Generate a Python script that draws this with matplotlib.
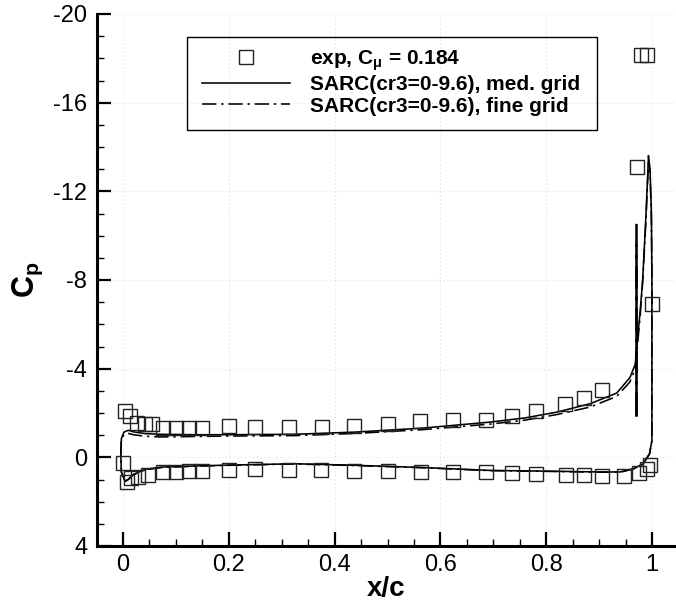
import matplotlib
matplotlib.use("Agg")
import matplotlib.pyplot as plt
from matplotlib.ticker import MultipleLocator
from matplotlib.patches import Rectangle

plt.rcParams['font.family'] = ['Liberation Sans', 'DejaVu Sans']
plt.rcParams['mathtext.fontset'] = 'custom'
plt.rcParams['mathtext.rm'] = 'Liberation Sans'
plt.rcParams['mathtext.bf'] = 'Liberation Sans:bold'
plt.rcParams['mathtext.it'] = 'Liberation Sans:italic'
plt.rcParams['mathtext.default'] = 'regular'

# ---------------- data ----------------
exp_up_x = [0.004, 0.013, 0.027, 0.041, 0.054, 0.076, 0.10, 0.125, 0.15, 0.20, 0.25, 0.313,
            0.376, 0.437, 0.50, 0.561, 0.624, 0.686, 0.736, 0.780, 0.836, 0.872, 0.905,
            0.972, 0.978, 0.99, 1.0]
exp_up_cp = [-2.07, -1.86, -1.54, -1.50, -1.49, -1.32, -1.32, -1.32, -1.32, -1.41, -1.35, -1.35,
             -1.37, -1.41, -1.52, -1.64, -1.67, -1.67, -1.86, -2.09, -2.42, -2.69, -3.05,
             -13.1, -18.15, -18.15, -6.9]

exp_lo_x = [0.0, 0.007, 0.016, 0.029, 0.047, 0.076, 0.10, 0.125, 0.15, 0.20, 0.25, 0.313,
            0.374, 0.437, 0.50, 0.563, 0.624, 0.686, 0.736, 0.78, 0.838, 0.872, 0.905,
            0.947, 0.976, 0.99, 0.996]
exp_lo_cp = [0.27, 1.11, 0.95, 0.87, 0.78, 0.66, 0.66, 0.62, 0.62, 0.59, 0.54, 0.57,
             0.59, 0.62, 0.63, 0.65, 0.68, 0.68, 0.72, 0.77, 0.80, 0.80, 0.82,
             0.86, 0.71, 0.51, 0.36]

med_up_x = [0.004, -0.003, -0.004, -0.003, 0.002, 0.01, 0.02, 0.042, 0.07, 0.136, 0.2, 0.325,
            0.44, 0.567, 0.694, 0.76, 0.82, 0.883, 0.933, 0.958, 0.968, 0.972, 0.977,
            0.982, 0.988, 0.993]
med_up_cp = [1.08, 0.66, -0.09, -0.84, -1.14, -1.22, -1.15, -1.07, -1.04, -1.02, -1.02, -1.04,
             -1.14, -1.32, -1.59, -1.78, -2.04, -2.42, -2.9, -3.6, -4.2, -5.3, -6.5,
             -8.0, -10.8, -13.6]
med_lo_x = [0.004, 0.01, 0.019, 0.042, 0.073, 0.136, 0.2, 0.325, 0.44, 0.567, 0.694, 0.82,
            0.90, 0.94, 0.965, 0.983, 0.995, 0.9995, 0.9995, 0.9985, 0.996, 0.993]
med_lo_cp = [1.08, 1.0, 0.78, 0.54, 0.44, 0.39, 0.35, 0.29, 0.36, 0.46, 0.59, 0.63,
             0.66, 0.66, 0.51, 0.29, -0.17, -0.77, -8.0, -11.0, -13.0, -13.6]
med_slot_x = [0.969, 0.969]
med_slot_cp = [-1.9, -9.6]

fine_up_x = [0.004, -0.003, -0.004, -0.003, 0.003, 0.01, 0.02, 0.042, 0.07, 0.136, 0.2, 0.325,
             0.44, 0.567, 0.694, 0.76, 0.82, 0.883, 0.933, 0.958, 0.968, 0.972, 0.977,
             0.982, 0.988, 0.993]
fine_up_cp = [1.08, 0.66, -0.09, -0.84, -1.06, -1.08, -1.02, -0.95, -0.92, -0.94, -0.96, -0.98,
              -1.08, -1.25, -1.5, -1.68, -1.93, -2.27, -2.75, -3.4, -4.0, -5.0, -6.3,
              -7.9, -10.6, -13.3]
fine_lo_x = [0.004, 0.01, 0.019, 0.042, 0.073, 0.136, 0.2, 0.325, 0.44, 0.567, 0.694, 0.82,
             0.90, 0.94, 0.965, 0.983, 0.995, 0.9995, 0.9995, 0.9985, 0.996, 0.993]
fine_lo_cp = [1.08, 1.0, 0.80, 0.56, 0.46, 0.40, 0.36, 0.30, 0.37, 0.47, 0.60, 0.64,
              0.67, 0.67, 0.52, 0.30, -0.15, -0.75, -8.0, -10.8, -12.8, -13.3]
fine_slot_x = [0.969, 0.969]
fine_slot_cp = [-1.9, -10.7]

x_ticks = [0, 0.2, 0.4, 0.6, 0.8, 1]
x_ticklabels = ['0', '0.2', '0.4', '0.6', '0.8', '1']
y_ticks = [-20, -16, -12, -8, -4, 0, 4]
y_ticklabels = ['-20', '-16', '-12', '-8', '-4', '0', '4']

# ---------------- figure ----------------
W, H = 676, 611
fig = plt.figure(figsize=(W/100, H/100), dpi=100)
ax = fig.add_axes([97/W, 1-546/H, 1-97/W, (546-14)/H])

dash_dot = (0, (9, 3, 1.5, 3))
lw = 1.15

ax.plot(exp_up_x, exp_up_cp, ls='none', marker='s', ms=10, mfc='none', mec='#222222',
        mew=1.0, label=r'exp, C$_{μ}$ = 0.184', zorder=3)
ax.plot(exp_lo_x, exp_lo_cp, ls='none', marker='s', ms=10, mfc='none', mec='#222222',
        mew=1.0, zorder=3)

ax.plot(med_up_x, med_up_cp, color='black', lw=lw, ls='-', label='SARC(cr3=0-9.6), med. grid')
ax.plot(med_lo_x, med_lo_cp, color='black', lw=lw, ls='-')
ax.plot(med_slot_x, med_slot_cp, color='black', lw=lw*1.6, ls='-')

ax.plot(fine_up_x, fine_up_cp, color='black', lw=lw, ls=dash_dot, label='SARC(cr3=0-9.6), fine grid')
ax.plot(fine_lo_x, fine_lo_cp, color='black', lw=lw, ls=dash_dot)
ax.plot(fine_slot_x, fine_slot_cp, color='black', lw=lw*1.6, ls=dash_dot)

ax.set_xlim(-0.049, 1.045)
ax.set_ylim(4, -20)

ax.set_xticks(x_ticks)
ax.set_xticklabels(x_ticklabels)
ax.set_yticks(y_ticks)
ax.set_yticklabels(y_ticklabels)
ax.xaxis.set_minor_locator(MultipleLocator(0.05))
ax.yaxis.set_minor_locator(MultipleLocator(1))

ax.tick_params(which='major', direction='in', length=10, width=1.6, labelsize=17, pad=6)
ax.tick_params(which='minor', direction='in', length=5, width=1.0)
ax.tick_params(axis='y', pad=7)

for s in ['top', 'right']:
    ax.spines[s].set_visible(False)
for s in ['left', 'bottom']:
    ax.spines[s].set_linewidth(2.2)

ax.grid(True, which='major', ls=(0, (1, 2.5)), color='#e0e0e0', lw=0.8)
ax.set_axisbelow(True)

ax.set_xlabel('x/c', fontsize=20, fontweight='bold', labelpad=0)
ax.set_ylabel(r'$\mathbf{C_p}$', fontsize=22, labelpad=6)

fs = 15
em = fs * 100 / 72
leg = ax.legend(loc='upper left', bbox_to_anchor=(202/W, 1-48/H), bbox_transform=fig.transFigure,
                borderaxespad=0, frameon=False,
                prop={'weight': 'bold', 'size': fs}, handlelength=88/em, handletextpad=20/em,
                labelspacing=0.12, borderpad=0)
fig.add_artist(Rectangle((187/W, 1-130/H), (597-187)/W, (130-37)/H, transform=fig.transFigure,
                         fill=False, edgecolor='black', lw=1.0, zorder=5))

fig.savefig('out.png', dpi=100)
